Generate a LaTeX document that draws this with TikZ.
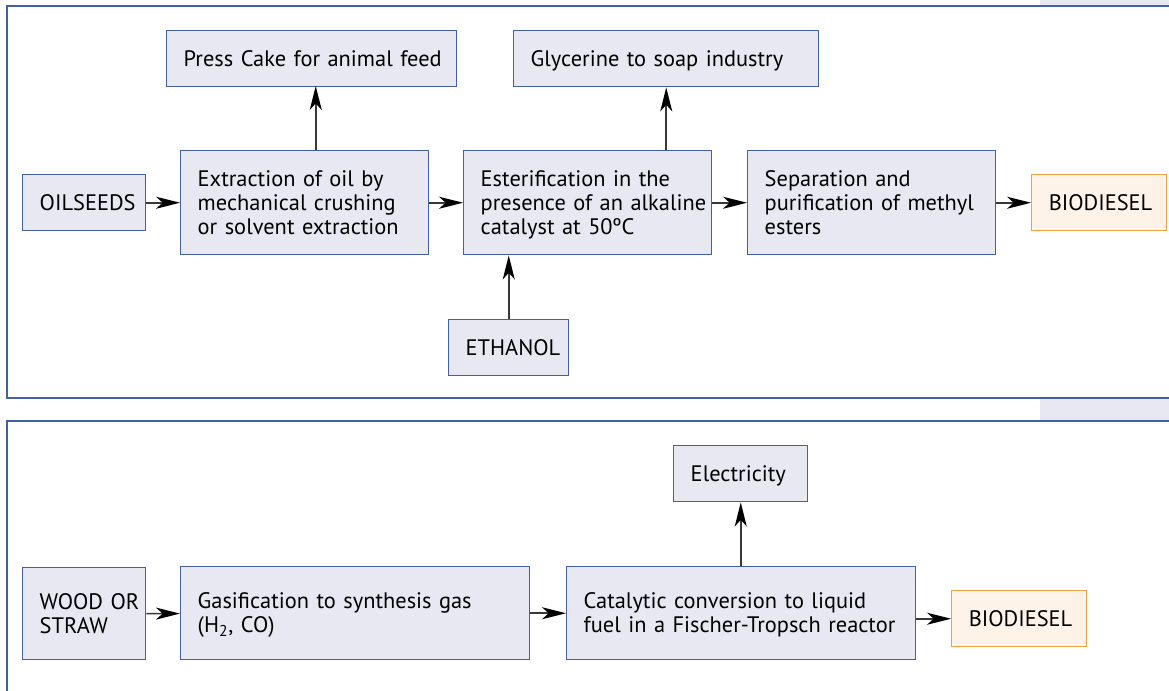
\documentclass[tikz,border=0pt]{standalone}
\usepackage{fontspec}
\setmainfont{PT Sans}
\usetikzlibrary{arrows.meta}
\definecolor{boxfill}{RGB}{232,232,242}
\definecolor{boxline}{RGB}{66,96,162}
\definecolor{prodfill}{RGB}{254,243,232}
\definecolor{prodline}{RGB}{240,162,66}
\definecolor{arrline}{RGB}{55,55,55}
\newcommand{\boxlines}[1]{\raisebox{-2pt}[\height][\depth]{\begin{tabular}{@{}l@{}}#1\end{tabular}}}
\tikzset{
  proc/.style={draw=boxline, line width=1.1pt, fill=boxfill, anchor=north west,
    align=left, inner xsep=12.75pt, inner ysep=0pt,
    font=\fontsize{16.8}{18}\selectfont},
  prod/.style={proc, draw=prodline, fill=prodfill},
  arr/.style={draw=arrline, line width=1.2pt,
    -{Stealth[length=18pt,width=9pt,inset=5pt,color=black]}},
  panel/.style={draw=boxline, line width=1.5pt}
}
\begin{document}
\begin{tikzpicture}[x=0.75pt,y=0.75pt,yscale=-1,xscale=1]
\useasboundingbox (0,0) rectangle (1169,690);

%Shape: Panels
\fill[boxfill] (1040,0) rectangle (1169,6);
\fill[boxfill] (1040,399) rectangle (1169,421);
\draw[panel] (1180,6) -- (7,6) -- (7,398) -- (1180,398);
\draw[panel] (1180,421) -- (7,421) -- (7,700);

% Text Node
\node[proc, text width=192pt, minimum height=42pt] (press) at (166,30) {\boxlines{Press Cake for animal feed}};
% Text Node
\node[proc, text width=203.25pt, minimum height=42pt] (glyc) at (513,30) {\boxlines{Glycerine to soap industry}};
% Text Node
\node[proc, text width=66.75pt, minimum height=42pt] (oil) at (22,174) {\boxlines{OILSEEDS}};
% Text Node
\node[proc, text width=160.5pt, minimum height=78pt] (ext) at (180,150) {\boxlines{Extraction of oil by\\mechanical crushing\\or solvent extraction}};
% Text Node
\node[proc, text width=160.5pt, minimum height=78pt] (est) at (463,150) {\boxlines{Esterification in the\\presence of an alkaline\\catalyst at 50ºC}};
% Text Node
\node[proc, text width=160.5pt, minimum height=78pt] (sep) at (747,150) {\boxlines{Separation and\\purification of methyl\\esters}};
% Text Node
\node[prod, text width=75.75pt, minimum height=42pt] (bio1) at (1031,174) {\boxlines{BIODIESEL}};
% Text Node
\node[proc, text width=64.5pt, minimum height=42pt] (eth) at (448,319) {\boxlines{ETHANOL}};

% Text Node
\node[proc, text width=75pt, minimum height=42pt] (elec) at (673,445) {\boxlines{Electricity}};
% Text Node
\node[proc, text width=66.75pt, minimum height=69pt] (wood) at (22,567) {\boxlines{WOOD OR\\STRAW}};
% Text Node
\node[proc, text width=236.25pt, minimum height=69.75pt] (gas) at (180,566) {\boxlines{Gasification to synthesis gas\\(H\textsubscript{2}, CO)}};
% Text Node
\node[proc, text width=236.25pt, minimum height=69.75pt] (cat) at (566,566) {\boxlines{Catalytic conversion to liquid\\fuel in a Fischer-Tropsch reactor}};
% Text Node
\node[prod, text width=75.75pt, minimum height=42pt] (bio2) at (951,590) {\boxlines{BIODIESEL}};

%Straight Lines
\draw[arr] (oil) -- (ext);
\draw[arr] (ext) -- (est);
\draw[arr] (est) -- (sep);
\draw[arr] (sep) -- (bio1);
\draw[arr] (ext.north -| press.south) ++(4,0) -- ++(0,-64);
\draw[arr] (est.north -| glyc.south) -- (glyc.south);
\draw[arr] (eth.north) -- (eth.north |- est.south);
%Straight Lines
\draw[arr] (wood) -- (gas);
\draw[arr] (gas) -- (cat);
\draw[arr] (cat.east |- bio2) -- (bio2);
\draw[arr] (cat.north -| elec.south) -- (elec.south);

\end{tikzpicture}
\end{document}
